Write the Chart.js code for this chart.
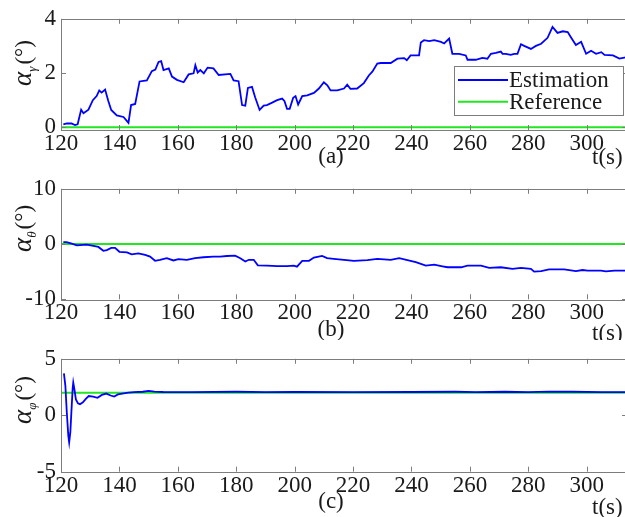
<!DOCTYPE html>
<html lang="en">
<head>
<meta charset="UTF-8">
<title>Attitude misalignment estimation</title>
<script src="https://cdn.jsdelivr.net/npm/chart.js@4.4.0/dist/chart.umd.min.js"></script>
<style>
  html, body { margin: 0; padding: 0; background: #fff; overflow: hidden; width: 625px; height: 517px; }
  canvas { position: absolute; left: 0; }
</style>
</head>
<body>
<canvas id="chartA" width="640" height="170" style="top:0px"></canvas>
<canvas id="chartB" width="640" height="170" style="top:170px"></canvas>
<canvas id="chartC" width="640" height="177" style="top:340px"></canvas>

<script>
// time axis (s)
const tMin = 120, tMax = 313.8;
const tTicks = [120, 140, 160, 180, 200, 220, 240, 260, 280, 300];
const refTime = [tMin, tMax];

// (a) alpha_gamma
const timeA = [120.8,122,123.6,124.8,125.7,126.9,127.7,129.4,130.9,132.2,133.1,133.9,135.1,136.2,137.2,139.1,141.4,143.1,144,145.4,
  146.9,149.4,151.1,152.3,153.4,154.3,155.1,156.9,158,159.7,162,163.7,165.4,166,166.8,167.7,168.9,170.2,172.2,174,
  178,179.1,180.8,182,183.1,184,185.4,186.5,188,189.4,190.5,192.3,194,195.7,196.5,197.4,198.3,199.5,200.3,201.2,
  202.6,204.3,206.6,208.3,210,211.2,212.3,214.6,216.9,218,219.1,221.4,223.7,225.4,226.6,228.3,229.5,232.9,235.2,237.5,
  238.4,239.7,242.6,243.2,244.3,246.1,247.8,250.1,251.2,252.9,254,256.3,258.6,259.2,262,264.3,266,267.2,268.9,270.6,
  271.2,272.3,274,275.2,276.3,277.5,278.6,280.9,282.6,284.4,286.6,288.3,290,291.8,293.5,294.7,296.3,298.1,299.8,301.5,
  303.2,305,306.1,309,311.2,313.8];
const estA = [0.11,0.14,0.14,0.08,0.11,0.65,0.52,0.65,1.0,1.15,1.36,1.28,1.39,0.97,0.64,0.44,0.38,0.16,0.82,0.86,
  1.69,1.73,2.07,2.13,2.41,2.44,2.11,2.17,1.87,1.75,1.66,1.95,1.99,2.29,2.02,2.11,1.99,2.2,2.17,1.93,
  1.97,1.73,1.7,0.82,0.8,1.45,1.49,1.1,0.64,0.8,0.82,0.91,1.0,1.06,0.97,0.68,0.68,1.09,1.15,0.84,
  1.15,1.18,1.27,1.43,1.66,1.55,1.36,1.36,1.43,1.57,1.42,1.43,1.63,1.91,2.05,2.35,2.37,2.37,2.53,2.55,
  2.47,2.65,2.65,3.13,3.21,3.18,3.21,3.15,3.09,3.27,2.71,2.71,2.65,2.49,2.49,2.56,2.53,2.71,2.74,2.79,
  2.71,2.71,2.67,2.71,2.71,3.06,3.0,2.89,3.0,3.08,3.30,3.7,3.48,3.54,3.51,3.30,3.03,3.15,2.71,2.82,
  2.71,2.77,2.67,2.65,2.53,2.59];
const refA = [0, 0];
const yTicksA = [0, 2, 4];

// (b) alpha_theta
const timeB = [120.8,121.9,123.7,125.4,128.8,131.1,132.8,134.5,135.7,137.2,138.5,140,142.6,144.2,146.5,148.8,150.5,152.2,153.9,156.2,
  158.5,160.2,163.1,165.9,168.8,172.2,174.5,176.8,179.6,181.4,183.1,184.3,186,187.4,190.6,194,197.4,199.7,200.8,202.6,
  204.9,206.6,209.4,211.1,213.4,216.9,220.3,224.9,228.3,232.9,235.8,238.6,241.5,244.9,247.8,250.6,252.4,257,259.2,263.8,
  266.6,270.6,274.6,277.5,280.9,282,284.4,287.1,289.4,292.3,296.3,298.6,300.3,304.9,306.6,309.5,313.8];
const estB = [0.35,0.35,0.06,-0.23,-0.12,-0.35,-0.52,-1.22,-1.1,-0.7,-0.7,-1.4,-1.5,-1.86,-1.69,-1.98,-2.27,-3.03,-2.85,-2.56,
  -2.97,-2.74,-2.85,-2.56,-2.39,-2.27,-2.27,-2.16,-2.1,-2.56,-3.15,-2.85,-2.85,-3.85,-3.9,-4.0,-4.0,-3.9,-4.1,-3.03,
  -3.03,-2.45,-2.16,-2.56,-2.68,-2.85,-3.03,-2.91,-2.68,-2.85,-2.56,-2.91,-3.26,-3.9,-3.73,-4.02,-4.2,-4.2,-3.9,-3.9,
  -4.3,-4.2,-4.5,-4.3,-4.5,-5.0,-4.9,-4.6,-4.6,-4.6,-4.9,-4.7,-4.8,-4.8,-4.95,-4.8,-4.8];
const refB = [0, 0];
const yTicksB = [-10, 0, 10];

// (c) alpha_phi
const timeC = [121,121.5,122,122.5,122.8,123.2,123.6,124,124.2,124.6,125.1,125.8,126.5,127.5,128.5,129.5,131,132.5,134,135.5,
  137,138.2,139.5,141,143,145,148,150,152,155,165,180,190,200,220,240,255,262,272,280,
  287,295,305,313.8];
const estC = [3.7,2.6,0.2,-1.8,-2.4,-1.5,0.5,2.4,2.9,2.3,1.4,1.05,0.98,1.15,1.45,1.7,1.65,1.55,1.8,1.92,
  1.75,1.65,1.85,1.92,2.0,2.05,2.08,2.15,2.1,2.06,2.04,2.08,2.05,2.06,2.05,2.06,2.08,2.05,2.08,2.05,
  2.1,2.08,2.05,2.05];
const refC = [2, 2];
const yTicksC = [-5, 0, 5];

const serif = "'Liberation Serif', 'Times New Roman', serif";
const axisGray = '#7d7d7d';
const textColor = '#1a1a1a';
const blue = '#0000ff';
const green = '#22e622';

const xy = (ts, vs) => ts.map((t, i) => ({ x: t, y: vs[i] }));

// box, inward ticks, y title, panel tag and legend
const panelFrame = {
  id: 'panelFrame',
  afterDatasetsDraw(chart, args, opts) {
    const ctx = chart.ctx;
    const { left, right, top, bottom } = chart.chartArea;
    const xs = chart.scales.x, ys = chart.scales.y;
    ctx.save();
    ctx.strokeStyle = axisGray;
    ctx.lineWidth = 1;
    ctx.strokeRect(Math.round(left) + 0.5, Math.round(top) + 0.5, Math.round(right - left), Math.round(bottom - top));
    const tl = 5;
    ctx.beginPath();
    xs.ticks.forEach(t => {
      const x = Math.round(xs.getPixelForValue(t.value)) + 0.5;
      ctx.moveTo(x, bottom); ctx.lineTo(x, bottom - tl);
      ctx.moveTo(x, top); ctx.lineTo(x, top + tl);
    });
    ys.ticks.forEach(t => {
      const y = Math.round(ys.getPixelForValue(t.value)) + 0.5;
      ctx.moveTo(left, y); ctx.lineTo(left + tl, y);
      ctx.moveTo(right, y); ctx.lineTo(right - tl, y);
    });
    ctx.stroke();

    // legend
    if (opts.legend) {
      const lx = 454, ly = 66, lw = 169, lh = 49;
      ctx.fillStyle = '#fff';
      ctx.fillRect(lx, ly, lw, lh);
      ctx.strokeStyle = axisGray;
      ctx.lineWidth = 1;
      ctx.strokeRect(lx + 0.5, ly + 0.5, lw, lh);
      ctx.font = `23px ${serif}`;
      ctx.textBaseline = 'middle';
      ctx.textAlign = 'left';
      chart.data.datasets.forEach((ds, i) => {
        const y = ly + 14 + i * 21.7;
        ctx.strokeStyle = ds.borderColor;
        ctx.lineWidth = 2;
        ctx.beginPath();
        ctx.moveTo(lx + 4, y); ctx.lineTo(lx + 54, y);
        ctx.stroke();
        ctx.fillStyle = textColor;
        ctx.fillText(ds.label, lx + 55, y + 1);
      });
    }

    // panel tag and time unit
    ctx.fillStyle = textColor;
    ctx.font = `23px ${serif}`;
    ctx.textBaseline = 'middle';
    ctx.textAlign = 'center';
    ctx.fillText(opts.tag, 331, opts.tagY);
    ctx.textAlign = 'left';
    ctx.fillText('t(s)', 592, opts.unitY);

    // rotated y title: alpha with greek subscript, then (°)
    ctx.translate(31, opts.titleY);
    ctx.rotate(-Math.PI / 2);
    ctx.textBaseline = 'alphabetic';
    const fA = `italic 27px ${serif}`, fS = `italic 13px ${serif}`, fU = `23px ${serif}`;
    ctx.font = fA; const wA = ctx.measureText('α').width;
    ctx.font = fS; const wS = ctx.measureText(opts.sub).width;
    ctx.font = fU; const wU = ctx.measureText('(°)').width;
    let x = -(wA + wS + 2 + wU) / 2;
    ctx.font = fA; ctx.fillText('α', x, 0); x += wA;
    ctx.font = fS; ctx.fillText(opts.sub, x, 5); x += wS + 2;
    ctx.font = fU; ctx.fillText('(°)', x, 0);
    ctx.restore();
  }
};

function makePanel(id, cfg) {
  const canvas = document.getElementById(id);
  return new Chart(canvas, {
    type: 'line',
    data: {
      datasets: [
        { label: 'Estimation', data: xy(cfg.time, cfg.est), borderColor: blue, borderWidth: 1.8,
          pointRadius: 0, tension: 0, fill: false },
        { label: 'Reference', data: xy(refTime, cfg.ref), borderColor: green, borderWidth: 2,
          pointRadius: 0, tension: 0, fill: false }
      ]
    },
    options: {
      responsive: false,
      animation: false,
      devicePixelRatio: 1,
      layout: { padding: { top: cfg.top, right: 13, left: 0, bottom: 0 } },
      plugins: {
        legend: { display: false },
        tooltip: { enabled: false },
        panelFrame: cfg.frame
      },
      scales: {
        x: {
          type: 'linear', min: tMin, max: tMax,
          afterBuildTicks: s => { s.ticks = tTicks.map(v => ({ value: v })); },
          afterFit: s => { s.height = canvas.height - cfg.bottom; },
          grid: { display: false, drawTicks: false },
          border: { display: false },
          ticks: { font: { family: serif, size: 23 }, color: textColor, padding: 0, maxRotation: 0, autoSkip: false }
        },
        y: {
          type: 'linear', min: cfg.yMin, max: cfg.yMax,
          afterBuildTicks: s => { s.ticks = cfg.yTicks.map(v => ({ value: v })); },
          afterFit: s => { s.width = 61; },
          grid: { display: false, drawTicks: false },
          border: { display: false },
          ticks: { font: { family: serif, size: 23 }, color: textColor, padding: 5 }
        }
      }
    },
    plugins: [panelFrame]
  });
}

makePanel('chartA', {
  time: timeA, est: estA, ref: refA, yTicks: yTicksA, yMin: -0.1, yMax: 4,
  top: 16, bottom: 130,
  frame: { legend: true, tag: '(a)', tagY: 157, unitY: 158, titleY: 63, sub: 'γ' }
});
makePanel('chartB', {
  time: timeB, est: estB, ref: refB, yTicks: yTicksB, yMin: -10, yMax: 10,
  top: 15, bottom: 129.3,
  frame: { legend: false, tag: '(b)', tagY: 160, unitY: 164, titleY: 58.5, sub: 'θ' }
});
makePanel('chartC', {
  time: timeC, est: estC, ref: refC, yTicks: yTicksC, yMin: -5, yMax: 5,
  top: 17.7, bottom: 131.7,
  frame: { legend: false, tag: '(c)', tagY: 162, unitY: 168, titleY: 60, sub: 'φ' }
});
</script>
</body>
</html>
